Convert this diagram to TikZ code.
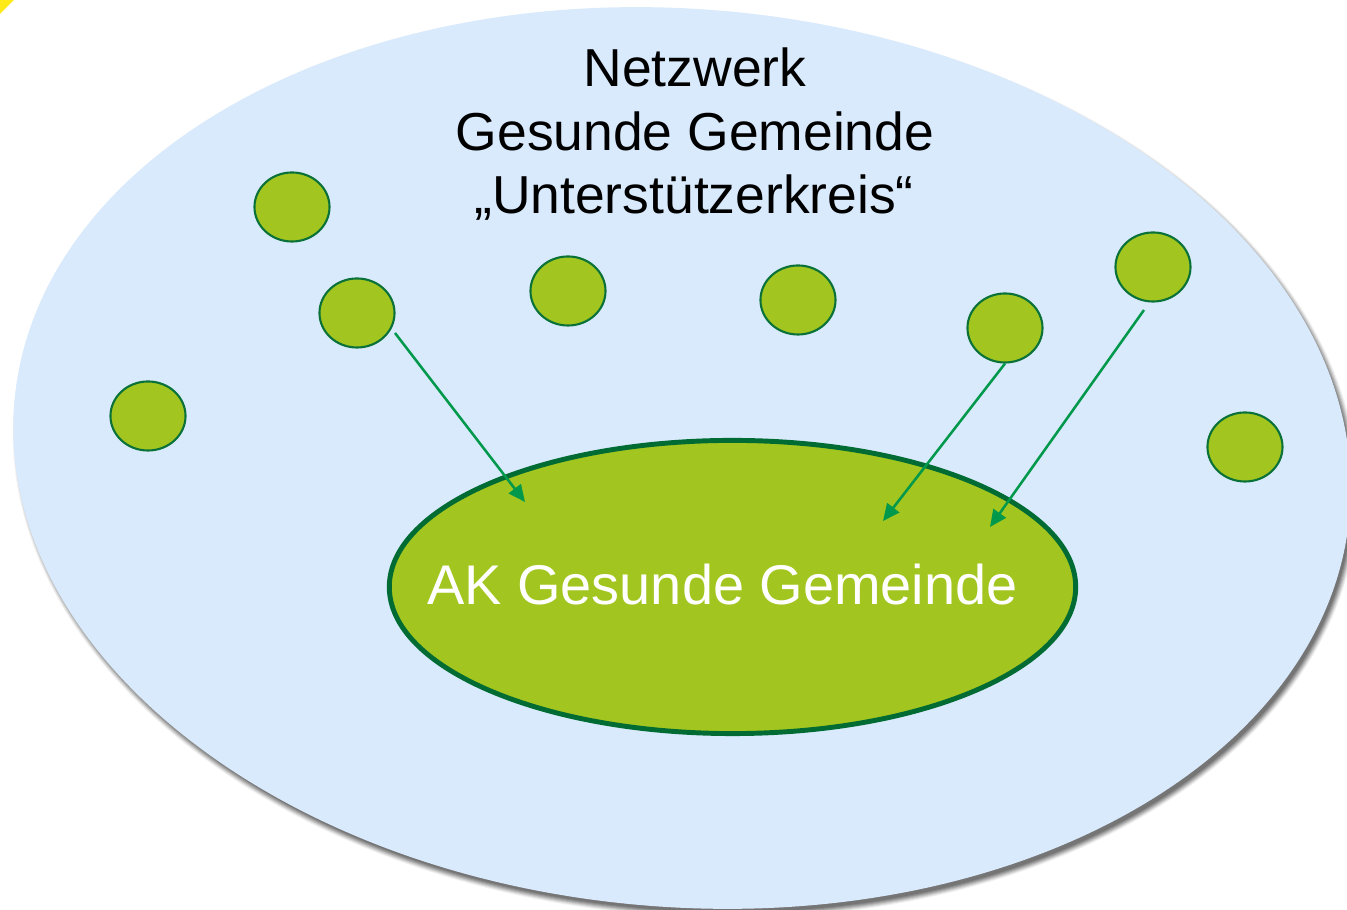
\documentclass[tikz,border=0pt]{standalone}
\usepackage{fontspec}
\setmainfont{Liberation Sans}
\usetikzlibrary{arrows.meta,calc,shapes.geometric}
\definecolor{netblue}{HTML}{D9EAFC}
\definecolor{leaf}{HTML}{A2C61F}
\definecolor{leafborder}{HTML}{0A7238}
\definecolor{akborder}{HTML}{006B32}
\definecolor{arrowgreen}{HTML}{00984A}
\definecolor{cornerYellow}{HTML}{FFE916}
\tikzset{
  member/.style={ellipse, draw=leafborder, fill=leaf, line width=0.6pt,
    minimum width=0.75cm, minimum height=0.69cm, inner sep=0pt},
  akshape/.style={ellipse, draw=akborder, fill=leaf, line width=1.4pt,
    minimum width=6.86cm, minimum height=2.93cm, inner sep=0pt},
  titletext/.style={anchor=base, inner sep=0pt, text=black,
    font=\fontsize{15.2pt}{18.2pt}\selectfont},
  aktextstyle/.style={anchor=base, inner sep=0pt, text=white,
    font=\fontsize{15.9pt}{19pt}\selectfont},
  joinarrow/.style={draw=arrowgreen, line width=0.72pt,
    -{Triangle[length=4.8pt,width=4.3pt]}}
}
\begin{document}
\begin{tikzpicture}[x=0.01cm,y=-0.01cm]
\useasboundingbox (0,0) rectangle (1347,910);
\clip (0,0) rectangle (1347,910);
\fill[white] (0,0) rectangle (1347,910);
% shadow of the network ellipse
\begin{scope}[rotate around={-4.7:(682,458)}]
\foreach \d/\op in {7/0.05,6/0.07,5/0.09,4/0.11,3/0.12,2/0.13,1/0.14}{
  \fill[black,opacity=\op] (686,463) ellipse ({667+\d} and {446+\d});
}
\fill[netblue] (682,458) ellipse (670 and 449);
\end{scope}
\fill[cornerYellow] (0,0) -- (14,0) -- (0,14) -- cycle;
% title
\node[titletext] (t1) at (695,87) {Netzwerk};
\node[titletext] (t2) at (695,151) {Gesunde Gemeinde};
\node[titletext] (t3) at (694,214) {„Unterstützerkreis“};
% members
\node[member] (c1) at (292,207) {};
\node[member] (c2) at (357,313) {};
\node[member] (c3) at (568,291) {};
\node[member] (c4) at (798,300) {};
\node[member] (c5) at (1005,328) {};
\node[member] (c6) at (1153,267) {};
\node[member] (c7) at (148,416) {};
\node[member] (c8) at (1245,447) {};
% AK
\node[akshape] (ak) at (732.5,587) {};
\node[aktextstyle] (aklabel) at (722.5,605) {AK Gesunde Gemeinde};
% arrow targets
\coordinate (e1) at (525,502);
\coordinate (e2) at (883,521);
\coordinate (e3) at (990,527);
\draw[joinarrow] ($(c2.center)+(38,20)$) -- (e1);
\draw[joinarrow] (c5.south) -- (e2);
\draw[joinarrow] ($(c6.center)+(-9,43)$) -- (e3);
\end{tikzpicture}
\end{document}
